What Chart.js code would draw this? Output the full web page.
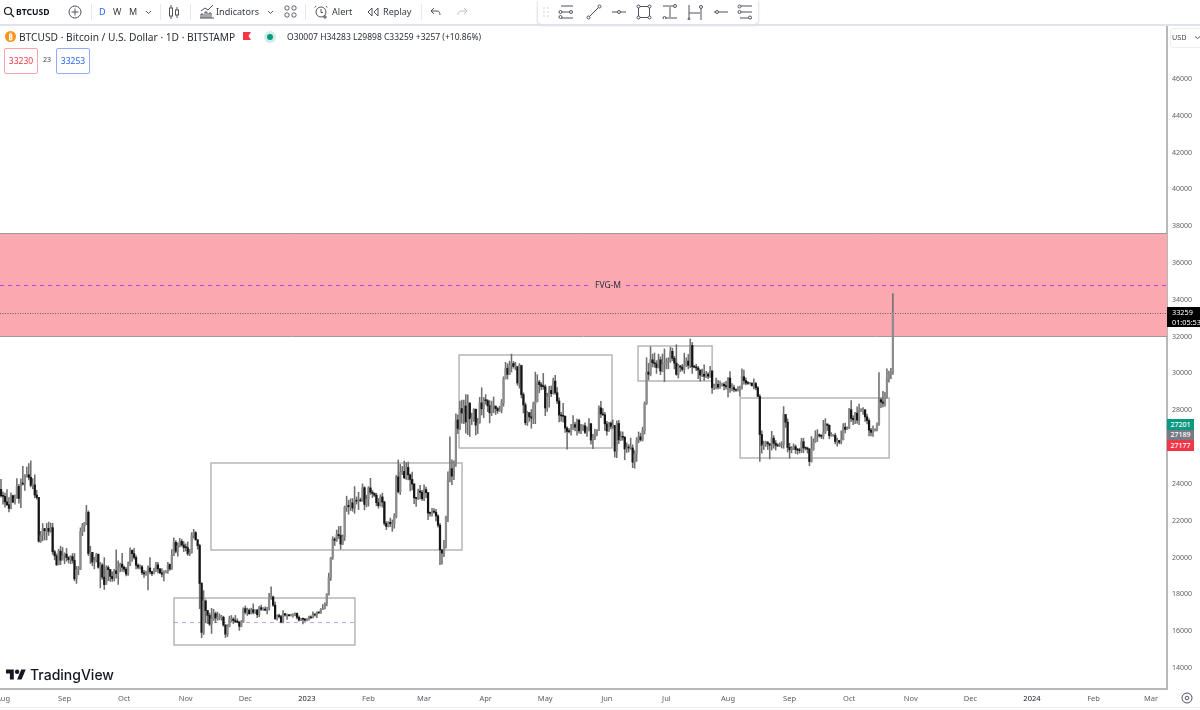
<!DOCTYPE html>
<html>
<head>
<meta charset="utf-8">
<title>BTCUSD</title>
<script src="https://cdn.jsdelivr.net/npm/chart.js@4"></script>
<style>
html, body { margin: 0; padding: 0; background: #fff; overflow: hidden; }
#wrap { position: relative; width: 1200px; height: 710px; font-family: "Noto Sans", sans-serif; color: #2a2e39; }
#wrap div, #wrap svg { position: absolute; }
canvas { position: absolute; left: 0; top: 0; }
.t { white-space: nowrap; font-size: 9.1px; line-height: 12px; color: #363a45; }
.ic { fill: none; stroke: #50535e; stroke-width: 1; }
.sep { width: 1px; height: 16px; top: 4px; background: #e6e8ee; }
.bdg { left: 1167px; width: 27px; color: #fff; font-size: 7px; font-weight: 500; text-align: center; }
</style>
</head>
<body>
<div id="wrap">
  <canvas id="myChart" width="1200" height="710"></canvas>

  <!-- top toolbar -->
  <svg class="ic" style="left:3px;top:6px" width="12" height="12"><circle cx="5" cy="5" r="3.5" stroke="#131722" stroke-width="1.2"/><path d="M8 8l3 3" stroke="#131722" stroke-width="1.2"/></svg>
  <div class="t" style="left:16px;top:6px;font-weight:700;font-size:8.6px;color:#131722">BTCUSD</div>
  <svg class="ic" style="left:68px;top:5px" width="14" height="14"><circle cx="7" cy="7" r="6"/><path d="M7 3.5v7M3.5 7h7"/></svg>
  <div class="sep" style="left:91px"></div>
  <div class="t" style="left:99px;top:6px;color:#2962ff;font-size:9px">D</div>
  <div class="t" style="left:113px;top:6px;font-size:9px">W</div>
  <div class="t" style="left:129px;top:6px;font-size:9px">M</div>
  <svg class="ic" style="left:145px;top:10px" width="7" height="5"><path d="M1 1l2.5 2.5L6 1"/></svg>
  <div class="sep" style="left:160px"></div>
  <svg class="ic" style="left:168px;top:4px" width="12" height="16"><path d="M3 1v14M9 3v11"/><rect x="1.5" y="4" width="3" height="8" fill="#fff"/><rect x="7.5" y="6" width="3" height="5" fill="#fff"/></svg>
  <div class="sep" style="left:190px"></div>
  <svg class="ic" style="left:199px;top:4px" width="16" height="16"><path d="M1 14h14M2 14v-4h2v4M6 14V8h2v6M10 14V9h2v5M2 7l4-3 3 2 5-5"/></svg>
  <div class="t" style="left:216px;top:6px">Indicators</div>
  <svg class="ic" style="left:267px;top:10px" width="7" height="5"><path d="M1 1l2.5 2.5L6 1"/></svg>
  <svg class="ic" style="left:284px;top:5px" width="13" height="14"><rect x="1" y="1" width="4" height="4" rx="1.5"/><rect x="8" y="1" width="4" height="4" rx="1.5"/><rect x="1" y="8" width="4" height="4" rx="1.5"/><rect x="8" y="8" width="4" height="4" rx="1.5"/></svg>
  <div class="sep" style="left:305px"></div>
  <svg class="ic" style="left:314px;top:4px" width="15" height="16"><circle cx="7" cy="8" r="5"/><path d="M7 5v3.5h2M2 2L0.8 3.5M12 2l1.2 1.5M11 11v4M9 13h4"/></svg>
  <div class="t" style="left:332px;top:6px">Alert</div>
  <svg class="ic" style="left:367px;top:7px" width="12" height="10"><path d="M5 1L1 5l4 4zM11 1L7 5l4 4z"/></svg>
  <div class="t" style="left:383px;top:6px">Replay</div>
  <div class="sep" style="left:421px"></div>
  <svg class="ic" style="left:430px;top:7px" width="12" height="10"><path d="M4 1L1 4l3 3M1 4h6c2 0 3 1.500 3 4"/></svg>
  <svg class="ic" style="left:456px;top:7px;opacity:.35" width="12" height="10"><path d="M8 1l3 3-3 3M11 4H5C3 4 2 5.500 2 8"/></svg>

  <!-- floating drawing toolbar -->
  <div style="left:538px;top:0;width:220px;height:24px;background:#fff;border-radius:0 0 4px 4px;box-shadow:0 1px 3px rgba(0,0,0,.28)"></div>
  <svg style="left:543px;top:7px" width="6" height="10" fill="#c9cbd1"><circle cx="1" cy="1" r=".8"/><circle cx="5" cy="1" r=".8"/><circle cx="1" cy="5" r=".8"/><circle cx="5" cy="5" r=".8"/><circle cx="1" cy="9" r=".8"/><circle cx="5" cy="9" r=".8"/></svg>
  <svg class="ic" style="left:558px;top:4px" width="16" height="16"><path d="M3 2h12M3 8h12M3 14h12"/><circle cx="2.500" cy="8" r="1.500" fill="#fff"/><circle cx="2.500" cy="13" r="1.500" fill="#fff"/><circle cx="13" cy="8" r="1.500" fill="#fff"/></svg>
  <svg class="ic" style="left:586px;top:4px" width="16" height="16"><path d="M3 13L13 3"/><circle cx="2.500" cy="13.500" r="1.500" fill="#fff"/><circle cx="13.500" cy="2.500" r="1.500" fill="#fff"/></svg>
  <svg class="ic" style="left:611px;top:4px" width="16" height="16"><path d="M1 8h14"/><circle cx="8" cy="8" r="1.500" fill="#fff"/></svg>
  <svg class="ic" style="left:636px;top:4px" width="16" height="16"><rect x="2.500" y="2.500" width="11" height="11"/><circle cx="2.500" cy="2.500" r="1.500" fill="#fff"/><circle cx="13.500" cy="2.500" r="1.500" fill="#fff"/><circle cx="2.500" cy="13.500" r="1.500" fill="#fff"/><circle cx="13.500" cy="13.500" r="1.500" fill="#fff"/></svg>
  <svg class="ic" style="left:662px;top:3px" width="16" height="16"><path d="M1 3h11M3 15h12M8 4v10"/><circle cx="13" cy="3" r="1.500" fill="#fff"/><circle cx="2.500" cy="15" r="1.500" fill="#fff"/></svg>
  <svg class="ic" style="left:687px;top:4px" width="16" height="16"><path d="M2 1v15M14 5v11M2 9h11"/><circle cx="14" cy="3" r="1.500" fill="#fff"/><circle cx="2" cy="15" r="1" fill="#fff"/></svg>
  <svg class="ic" style="left:713px;top:4px" width="16" height="16"><path d="M1 8h14"/><circle cx="4" cy="8" r="1.500" fill="#fff"/></svg>
  <svg class="ic" style="left:737px;top:4px" width="16" height="16"><path d="M3 2h12M3 8h12M3 14h12"/><circle cx="2.500" cy="2.500" r="1.500" fill="#fff"/><circle cx="2.500" cy="8" r="1.500" fill="#fff"/><circle cx="13" cy="13.500" r="1.500" fill="#fff"/></svg>

  <div style="left:0;top:24px;width:1200px;height:2px;background:#e0e3eb"></div>

  <!-- symbol legend -->
  <svg style="left:5px;top:31px" width="11" height="11"><circle cx="5.500" cy="5.500" r="5.500" fill="#f7931a"/><text x="5.500" y="8.500" font-size="8" font-weight="700" fill="#fff" text-anchor="middle">₿</text></svg>
  <div class="t" style="left:19px;top:31px;font-size:10.2px;color:#2a2e39">BTCUSD · Bitcoin / U.S. Dollar · 1D · BITSTAMP</div>
  <svg style="left:243px;top:32px" width="8" height="10"><path d="M0 0h8L5.500 4 8 8H0z" fill="#f23645"/></svg>
  <svg style="left:264px;top:31px" width="12" height="12"><circle cx="6" cy="6" r="6" fill="#cfeee8"/><circle cx="6" cy="6" r="3" fill="#089981"/></svg>
  <div class="t" style="left:287px;top:31px;font-size:8.5px;color:#2a2e39">O30007 H34283 L29898 C33259 +3257 (+10.86%)</div>
  <div class="t" style="left:4px;top:48px;width:32px;height:24px;border:1px solid #f7a3aa;border-radius:2px;text-align:center;line-height:24px;color:#f23645;font-size:8.5px">33230</div>
  <div class="t" style="left:43px;top:54px;font-size:7px">23</div>
  <div class="t" style="left:56px;top:48px;width:32px;height:24px;border:1px solid #90abff;border-radius:2px;text-align:center;line-height:24px;color:#2962ff;font-size:8.5px">33253</div>

  <!-- right axis widgets -->
  <div style="left:1170px;top:28px;width:40px;height:18px;border:1px solid #eceef2;border-radius:3px"></div>
  <div class="t" style="left:1172px;top:31px;font-size:7.2px;color:#434651">USD</div>
  <svg class="ic" style="left:1195px;top:36px" width="5" height="4"><path d="M0 .5l2.500 2 2.500-2"/></svg>
  <div style="left:1167px;top:307px;width:33px;height:20px;background:#000;color:#fff;font-size:7.3px;line-height:10px;padding-left:5px;white-space:nowrap;box-sizing:border-box;overflow:hidden">33259<br>01:05:53</div>
  <div class="bdg" style="top:419px;height:11px;line-height:11px;background:#089981">27201</div>
  <div class="bdg" style="top:430px;height:10px;line-height:10px;background:#787b86">27189</div>
  <div class="bdg" style="top:440px;height:11px;line-height:11px;background:#f23645">27177</div>

  <!-- logo -->
  <svg style="left:6px;top:667px" width="20" height="15" viewBox="0 3 36 20" fill="#131722"><path d="M14 22H7V11H0V4h14v18zM28 22h-8l7.500-18h8L28 22z"/><circle cx="20" cy="8" r="4"/></svg>
  <div class="t" style="left:30px;top:665px;font-size:14px;line-height:19px;font-weight:500;color:#131722;font-family:Inter,sans-serif">TradingView</div>

  <div style="left:0;top:707px;width:1200px;height:1px;background:#eef0f3"></div>
  <svg class="ic" style="left:1181px;top:692px" width="12" height="12"><circle cx="6" cy="6" r="5"/><circle cx="6" cy="6" r="1.800"/></svg>
</div>

<script>
// daily candles, first one is 31 Jul 2022
var firstDay = -1;

var opens = [
  23650,
  23300,23270,22970,22820,22620,23310,22960,23180,23810,23160,23950,23940,24400,24440,24300,23860,23890,23340,23210,20830,21140,21520,21400,21530,21370,21570,20260,20040,19550,20290,19800,
  20050,20130,19950,19830,20000,19790,18790,19290,19320,21360,21650,21830,22400,20170,20230,19700,19800,20120,19420,19540,18880,18480,19400,19290,18920,18800,19220,19080,19410,19590,
  19420,19310,19050,19620,20330,20160,19950,19530,19420,19440,19130,19060,19150,19380,19180,19070,19260,19550,19330,19120,19040,19160,19200,19570,19330,20080,20770,20290,20590,20820,20630,
  20490,20480,20150,20210,21150,21300,20920,20600,18540,15880,17590,17070,16810,16330,16620,16900,16660,16690,16690,16700,16280,15780,16220,16600,16600,16520,16450,16430,16210,16440,
  17170,16970,17090,16890,17110,16970,17090,16840,17220,17130,17130,17090,17210,17780,17810,17360,16630,16780,16740,16440,16900,16820,16830,16780,16840,16840,16920,16700,16550,16630,16600,
  16540,16610,16680,16670,16850,16830,16950,16940,17120,17180,17440,17940,18850,19930,20950,20880,21190,21140,20680,21070,22670,22780,22710,22920,22630,23060,23010,23080,23030,23740,22830,
  23120,23730,23490,23430,23330,22930,22760,23240,22960,21800,21630,21860,21780,21780,22200,24330,23520,24570,24630,24280,24840,24440,24190,23940,23190,23160,23560,23490,
  23140,23640,23470,22360,22350,22430,22410,22200,21700,20370,20190,20630,22160,24200,24770,24370,25050,27420,26960,28040,27800,28180,27310,28320,27490,27490,28000,27140,27270,28350,28030,
  28480,28470,28190,27810,28170,28170,28040,27920,27950,28340,29650,30230,29900,30400,30490,30320,30320,29430,30380,28800,28240,27270,27820,27590,27520,28300,28420,29480,29340,29240,
  29230,28070,28680,29030,28850,29530,28900,28450,27690,27640,27620,26980,26800,26780,26930,27170,27030,27400,26830,26890,27110,26750,26850,27220,26330,26470,26720,26870,28080,27750,27700,
  27210,26820,27250,27070,27120,25730,27230,26340,26500,26480,25850,25920,25900,25900,25130,25580,26340,26510,26340,26840,28310,30020,29900,30690,30530,30470,30270,30690,30080,30450,
  30470,30590,30620,31150,30770,30510,29900,30350,30290,30170,30410,30620,30390,31470,30310,30290,30240,30140,29860,29910,29800,29910,29800,30080,29180,29230,29350,29210,29310,29360,29280,
  29230,29700,29170,29180,29080,29040,29050,29180,29770,29560,29430,29400,29420,29280,29400,29170,28700,26630,26050,26100,26190,26130,26040,26430,26160,26050,26010,26090,26100,27720,27300,
  25930,25800,25870,25970,25820,25780,25750,26240,25900,25890,25830,25160,25850,26220,26530,26600,26560,26530,26760,27210,27130,26570,26580,26580,26250,26300,26210,26350,27030,26910,
  26970,27980,27500,27430,27790,27410,27930,27950,27970,27590,27390,26870,26750,26860,26860,27160,28520,28400,28330,28720,29680,29920,30007
];
var highs = [
  24190,
  23510,23450,23640,23210,23460,23340,23360,24240,23920,24220,24900,24460,24880,25050,25200,24240,24440,23600,23210,21370,21790,21520,21800,21870,21820,21810,20340,20150,20400,20560,20490,
  20200,20440,20000,20050,20160,20170,19460,19460,21560,21800,21860,22780,22480,20560,20180,19960,20170,20140,19680,19620,19940,19500,19500,19300,19170,19310,20370,19770,19640,20170,
  19480,19400,19710,20470,20360,20450,20050,19600,19550,19520,19250,19210,19500,19950,19200,19380,19690,19690,19350,19340,19240,19240,19690,19600,20380,21020,20870,20740,20990,20930,20820,
  20690,20800,20390,21300,21480,21360,20680,20670,18590,18150,17650,17070,16930,17190,17130,16990,16980,16880,16810,16760,16290,16300,16760,16800,16680,16800,16620,16490,16530,17220,
  17320,17200,17160,17200,17430,17110,17140,17300,17360,17230,17270,17240,18000,18360,17850,17530,16840,16870,16810,17060,16900,16860,16860,16870,16860,16940,16930,16780,16650,16640,16640,
  16630,16770,16780,17000,16880,16990,16970,17170,17390,17490,17990,19100,19960,21080,21030,21440,21630,21650,21180,22740,23280,23060,23140,23150,23800,23240,23490,23180,23950,23800,23330,
  23800,24250,23590,23460,23440,23160,23360,23450,23010,21900,21900,22090,21990,22330,24410,25250,25020,24900,25190,25100,25130,24480,24590,23970,23210,23660,23870,23600,
  23890,23780,23480,22420,22620,22600,22560,22280,21800,20320,20880,22200,24600,26500,25250,25200,27760,27700,28440,28500,28500,28800,28780,28380,27790,28040,28020,27510,28650,29170,28650,
  28800,28530,28470,28440,28670,28180,28100,28170,28530,29770,30550,30480,30620,31000,30600,30550,30310,30480,30400,28900,28350,27880,27820,27990,28390,30020,29880,29570,29450,29950,
  29330,28880,29250,29270,29690,29850,29180,28630,27830,28320,27650,27050,26950,27190,27660,27290,27470,27470,27180,27160,27260,27050,27490,27220,26640,26920,26900,28190,28430,28040,27830,
  27340,27290,27320,27430,27130,27370,27400,26790,26770,26520,26180,26090,26430,26070,25750,26460,26770,26700,27030,28400,30800,30500,31400,31000,31060,30640,31000,30850,31000,31280,
  30780,30800,31380,31320,30880,31510,30440,30390,30440,31050,30800,30980,31820,31630,30390,30450,30340,30040,30190,30420,30060,29990,30340,30100,29370,29690,29570,29530,29420,29450,29520,
  29730,30050,29400,29310,29090,29240,29260,30200,30130,29710,29520,29470,29440,29650,29470,29230,28800,26830,26270,26270,26260,26130,26800,26570,26300,26130,26180,26240,28150,27580,27480,
  26150,25980,26120,26060,25880,25890,26430,26430,25930,25950,25880,26520,26400,26840,26900,26670,26620,27400,27490,27150,27160,26730,26620,26700,26430,26320,26830,27220,27250,27050,
  28050,28480,27660,27830,28130,28290,28040,28100,27990,27740,27480,26960,27100,26950,27270,30000,28620,28980,28920,30200,30070,30220,34283
];
var lows = [
  23230,
  22850,22680,22760,22420,22590,22930,22840,23160,22900,22660,23880,23590,24310,24170,23780,23680,23190,23120,20780,20770,20860,20900,20900,21150,21320,20120,19820,19520,19550,19560,19900,
  19610,19750,19650,19610,19640,18680,18540,19010,19290,21130,21360,21720,20050,19620,19500,19330,19700,19360,18300,18760,18210,18570,18690,18650,18650,18680,18820,18480,19180,19190,
  19170,18950,18970,19500,19740,19860,19330,19330,19320,19020,18870,18970,18190,19050,18960,19060,19180,19110,19070,18900,18670,19110,19080,19240,19300,20050,20200,20020,20520,20560,20270,
  20300,20060,20050,20180,21000,20880,20400,17170,15590,15760,16400,16360,16250,15820,16530,16400,16540,16560,16540,16210,15600,15650,16180,16470,16360,16420,16400,15990,16180,16420,
  16880,16800,16870,16890,16880,16900,16680,16730,17080,17080,17060,16880,17090,17670,17290,16590,16550,16670,16400,16400,16760,16590,16770,16770,16700,16790,16610,16490,16510,16340,16470,
  16500,16550,16640,16660,16760,16680,16910,16910,17110,17150,17320,17900,18700,19850,20600,20820,20980,20400,20650,20870,22450,22300,22500,22460,22350,22850,22550,22990,23000,22540,22700,
  22740,23370,23200,23260,22760,22630,22740,22680,21700,21460,21610,21620,21370,21540,22100,23450,23370,24450,24230,24190,24160,23570,23620,22870,22730,23090,23130,23050,
  23030,23200,22000,22200,22190,22360,21940,21590,19560,19580,20000,20450,21900,24060,23900,24180,24900,26680,26900,27250,27220,26700,26620,26520,27170,27350,26600,26680,27240,27690,27550,
  28270,27870,27260,27660,27820,27720,27780,27880,27800,28170,29840,29640,29880,30030,30230,30140,29300,29150,28620,27800,27150,27120,27350,26970,27220,27220,28400,28900,29060,29090,
  27650,27880,28120,28690,28820,28810,28300,27310,27360,27300,26750,25830,26720,26600,26900,26830,26600,26700,26680,26850,26680,26530,26820,26100,25860,26350,26550,26840,27540,27670,26850,
  26600,26800,26930,26960,25400,25370,26130,26300,26320,25260,25650,25680,25820,24830,24800,25170,26180,26270,26280,26660,28260,29600,29820,30300,30280,29950,30240,29880,30040,29500,
  30200,30200,30550,30640,30200,29850,29700,30050,30080,29950,30320,30200,30260,29950,30250,30100,29660,29530,29770,29570,29720,29660,29730,28860,29060,29110,29100,29130,29260,29050,29100,
  28670,28920,29000,28950,28970,28980,28700,29100,29370,29320,29350,29360,29260,29110,29050,28680,25170,25620,25810,25980,25820,25300,25790,25890,25780,25980,25970,25900,25880,27020,25680,
  25340,25630,25810,25600,25560,25620,25650,25640,25790,25620,24930,25130,25770,26200,26250,26480,26410,26390,26680,26850,26400,26530,26530,26120,25990,26120,26120,26330,26720,26890,
  26950,27330,27170,27220,27230,27160,27870,27720,27340,27200,26560,26550,26530,26810,26820,27120,28090,28130,28170,28600,29480,29660,29898
];
var closes = [
  23300,
  23270,22970,22820,22620,23310,22960,23180,23810,23160,23950,23940,24400,24440,24300,23860,23890,23340,23210,20830,21140,21520,21400,21530,21370,21570,20260,20040,19550,20290,19800,20050,
  20130,19950,19830,20000,19790,18790,19290,19320,21360,21650,21830,22400,20170,20230,19700,19800,20120,19420,19540,18880,18480,19400,19290,18920,18800,19220,19080,19410,19590,19420,
  19310,19050,19620,20330,20160,19950,19530,19420,19440,19130,19060,19150,19380,19180,19070,19260,19550,19330,19120,19040,19160,19200,19570,19330,20080,20770,20290,20590,20820,20630,20490,
  20480,20150,20210,21150,21300,20920,20600,18540,15880,17590,17070,16810,16330,16620,16900,16660,16690,16690,16700,16280,15780,16220,16600,16600,16520,16450,16430,16210,16440,17170,
  16970,17090,16890,17110,16970,17090,16840,17220,17130,17130,17090,17210,17780,17810,17360,16630,16780,16740,16440,16900,16820,16830,16780,16840,16840,16920,16700,16550,16630,16600,16540,
  16610,16680,16670,16850,16830,16950,16940,17120,17180,17440,17940,18850,19930,20950,20880,21190,21140,20680,21070,22670,22780,22710,22920,22630,23060,23010,23080,23030,23740,22830,23120,
  23730,23490,23430,23330,22930,22760,23240,22960,21800,21630,21860,21780,21780,22200,24330,23520,24570,24630,24280,24840,24440,24190,23940,23190,23160,23560,23490,23140,
  23640,23470,22360,22350,22430,22410,22200,21700,20370,20190,20630,22160,24200,24770,24370,25050,27420,26960,28040,27800,28180,27310,28320,27490,27490,28000,27140,27270,28350,28030,28480,
  28470,28190,27810,28170,28170,28040,27920,27950,28340,29650,30230,29900,30400,30490,30320,30320,29430,30380,28800,28240,27270,27820,27590,27520,28300,28420,29480,29340,29240,29230,
  28070,28680,29030,28850,29530,28900,28450,27690,27640,27620,26980,26800,26780,26930,27170,27030,27400,26830,26890,27110,26750,26850,27220,26330,26470,26720,26870,28080,27750,27700,27210,
  26820,27250,27070,27120,25730,27230,26340,26500,26480,25850,25920,25900,25900,25130,25580,26340,26510,26340,26840,28310,30020,29900,30690,30530,30470,30270,30690,30080,30450,30470,
  30590,30620,31150,30770,30510,29900,30350,30290,30170,30410,30620,30390,31470,30310,30290,30240,30140,29860,29910,29800,29910,29800,30080,29180,29230,29350,29210,29310,29360,29280,29230,
  29700,29170,29180,29080,29040,29050,29180,29770,29560,29430,29400,29420,29280,29400,29170,28700,26630,26050,26100,26190,26130,26040,26430,26160,26050,26010,26090,26100,27720,27300,25930,
  25800,25870,25970,25820,25780,25750,26240,25900,25890,25830,25160,25850,26220,26530,26600,26560,26530,26760,27210,27130,26570,26580,26580,26250,26300,26210,26350,27030,26910,26970,
  27980,27500,27430,27790,27410,27930,27950,27970,27590,27390,26870,26750,26860,26860,27160,28520,28400,28330,28720,29680,29920,29990,33259
];

// axis labels
var monthDays = [0,31,61,92,122,153,184,212,243,273,304,334,365,396,426,457,487,518,549,578];
var monthLabels = ['Aug','Sep','Oct','Nov','Dec','2023','Feb','Mar','Apr','May','Jun','Jul','Aug','Sep','Oct','Nov','Dec','2024','Feb','Mar'];
var priceTicks = [14000,16000,18000,20000,22000,24000,26000,28000,30000,32000,34000,36000,38000,40000,42000,44000,46000];

// drawings on the chart, in days and dollars
var boxStart = [86.1, 104.7, 229.6, 319.7, 371.1];
var boxEnd = [177.2, 231.1, 306.6, 357, 446.1];
var boxTop = [17748, 25083, 30950, 31440, 28614];
var boxBottom = [15194, 20356, 25898, 29538, 25354];
var smallMid = 16461;
var zoneTop = 37579;
var zoneBottom = 31983;
var zoneMid = 34753;
var zoneLabelDay = 304.6;
var lastPrice = 33259;

var wicks = [];
var bodies = [];
var bodyColors = [];
for (var i = 0; i < closes.length; i++) {
  wicks.push({ x: firstDay + i, y: [lows[i], highs[i]] });
  bodies.push({ x: firstDay + i, y: [opens[i], closes[i]] });
  bodyColors.push(closes[i] >= opens[i] ? '#8c8c8c' : '#151515');
}

// zone, boxes and dashed lines
var drawings = {
  id: 'drawings',
  beforeDraw: function (chart) {
    // price labels sit a bit lower than Chart.js centres them
    chart.scales.y.getLabelItems(chart.chartArea).forEach(function (item) { item.textOffset = 1; });
  },
  beforeDatasetsDraw: function (chart) {
    var ctx = chart.ctx, xs = chart.scales.x, ys = chart.scales.y, area = chart.chartArea;
    ctx.save();
    ctx.fillStyle = '#faa9b1';
    ctx.fillRect(area.left, ys.getPixelForValue(zoneTop), area.right - area.left, ys.getPixelForValue(zoneBottom) - ys.getPixelForValue(zoneTop));
    ctx.strokeStyle = '#9a9a9a';
    ctx.lineWidth = 1;
    [zoneTop, zoneBottom].forEach(function (v) {
      var y = Math.round(ys.getPixelForValue(v)) + 0.5;
      ctx.beginPath(); ctx.moveTo(area.left, y); ctx.lineTo(area.right, y); ctx.stroke();
    });
    ctx.strokeStyle = '#ababab';
    ctx.lineWidth = 1.3;
    boxStart.forEach(function (d, n) {
      var x1 = xs.getPixelForValue(d), x2 = xs.getPixelForValue(boxEnd[n]);
      var y1 = ys.getPixelForValue(boxTop[n]), y2 = ys.getPixelForValue(boxBottom[n]);
      ctx.strokeRect(x1, y1, x2 - x1, y2 - y1);
    });
    // dashed purple lines
    ctx.strokeStyle = '#c040e8';
    ctx.lineWidth = 1;
    ctx.setLineDash([4, 4]);
    var ym = Math.round(ys.getPixelForValue(zoneMid)) + 0.5;
    var xl = xs.getPixelForValue(zoneLabelDay);
    ctx.beginPath();
    ctx.moveTo(area.left, ym); ctx.lineTo(xl - 18, ym);
    ctx.moveTo(xl + 18, ym); ctx.lineTo(area.right, ym);
    ctx.stroke();
    ctx.strokeStyle = 'rgba(170,60,200,0.6)';
    ctx.lineWidth = 0.8;
    var ys2 = Math.round(ys.getPixelForValue(smallMid)) + 0.5;
    ctx.beginPath();
    ctx.moveTo(xs.getPixelForValue(boxStart[0]), ys2); ctx.lineTo(xs.getPixelForValue(boxEnd[0]), ys2);
    ctx.stroke();
    // last price line
    ctx.strokeStyle = '#444444';
    ctx.lineWidth = 0.8;
    ctx.setLineDash([1, 1.5]);
    var yl = Math.round(ys.getPixelForValue(lastPrice)) + 0.5;
    ctx.beginPath(); ctx.moveTo(area.left, yl); ctx.lineTo(area.right, yl); ctx.stroke();
    ctx.setLineDash([]);
    ctx.fillStyle = '#2a2e39';
    ctx.font = '8.5px "Noto Sans"';
    ctx.textAlign = 'center';
    ctx.textBaseline = 'middle';
    ctx.fillText('FVG-M', xl, ym);
    ctx.restore();
  }
};

var ctx = document.getElementById('myChart').getContext('2d');
var myChart = new Chart(ctx, {
  type: 'bar',
  data: {
    datasets: [
      { label: 'Body', data: bodies, backgroundColor: bodyColors, barThickness: 1.6, minBarLength: 1, grouped: false, order: 1 },
      { label: 'Wick', data: wicks, backgroundColor: '#6e6e6e', barThickness: 0.9, grouped: false, order: 2 }
    ]
  },
  options: {
    responsive: false,
    animation: false,
    devicePixelRatio: 1,
    layout: { padding: { top: 26, left: 0, right: 0, bottom: 0 } },
    plugins: { legend: { display: false }, tooltip: { enabled: false } },
    scales: {
      x: {
        type: 'linear',
        offset: false,
        min: -1.5,
        max: 586,
        grid: { display: false, drawTicks: false },
        border: { color: '#b8b8b8', width: 2 },
        afterBuildTicks: function (scale) {
          scale.ticks = monthDays.map(function (d) { return { value: d }; });
        },
        afterFit: function (scale) {
          scale.height = 21;
          scale.paddingLeft = 0;
          scale.paddingRight = 0;
        },
        ticks: {
          autoSkip: false,
          maxRotation: 0,
          padding: 5,
          font: { family: 'Noto Sans', size: 7.5 },
          color: function (c) { return String(c.tick.label).length === 4 ? '#131722' : '#5d606b'; },
          callback: function (v) { return monthLabels[monthDays.indexOf(v)]; }
        }
      },
      y: {
        position: 'right',
        min: 12804,
        max: 48825,
        grid: { display: false, drawTicks: false },
        border: { color: '#b8b8b8', width: 2 },
        afterBuildTicks: function (scale) {
          scale.ticks = priceTicks.map(function (v) { return { value: v }; });
        },
        afterFit: function (scale) {
          scale.width = 33;
        },
        ticks: {
          padding: 5,
          font: { family: 'Noto Sans', size: 7 },
          color: '#5d606b',
          callback: function (v) { return String(v); }
        }
      }
    }
  },
  plugins: [drawings]
});
</script>
</body>
</html>
